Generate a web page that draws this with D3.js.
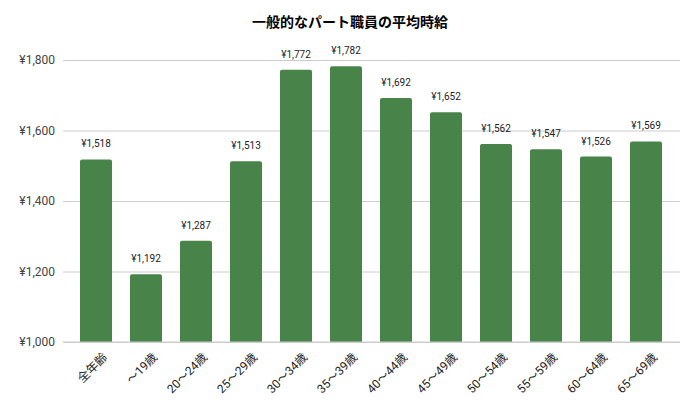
<!DOCTYPE html>
<html>
<head>
<meta charset="utf-8">
<script src="https://cdn.jsdelivr.net/npm/d3@7"></script>
<style>
  body { margin: 0; background: #fff; }
  text { font-family: Roboto, "Noto Sans CJK JP", sans-serif; }
</style>
</head>
<body>
<div id="wrap"></div>
<script>
// chart data
var categories = ["全年齢", "～19歳", "20～24歳", "25～29歳", "30～34歳", "35～39歳",
                  "40～44歳", "45～49歳", "50～54歳", "55～59歳", "60～64歳", "65～69歳"];
var wages = [1518, 1192, 1287, 1513, 1772, 1782, 1692, 1652, 1562, 1547, 1526, 1569];
var yTicks = [1000, 1200, 1400, 1600, 1800];

var W = 700, H = 411;

var svg = d3.select("#wrap").append("svg")
    .attr("width", W)
    .attr("height", H);

var x = d3.scaleBand()
    .domain(categories)
    .range([71, 671])
    .paddingInner(0.36)
    .paddingOuter(0.18);

var y = d3.scaleLinear()
    .domain([1000, 1800])
    .range([342, 60]);

var yen = function(v) { return "¥" + d3.format(",")(v); };

// title
svg.append("text")
    .attr("x", 350)
    .attr("y", 27)
    .attr("text-anchor", "middle")
    .style("font-family", "'Noto Sans CJK JP', sans-serif")
    .style("font-size", "14px")
    .style("font-weight", "bold")
    .style("fill", "#000")
    .text("一般的なパート職員の平均時給");

// gridlines + y labels
var yAxis = svg.append("g")
    .attr("transform", "translate(63,0)")
    .call(d3.axisLeft(y).tickValues(yTicks).tickFormat(yen).tickSize(-617).tickPadding(8));
yAxis.select(".domain").remove();
yAxis.selectAll(".tick line").attr("stroke", "#ccc");
yAxis.selectAll(".tick text")
    .style("font-size", "12px")
    .style("fill", "#444");

// bars, slightly rounded tops
svg.append("g").selectAll("path")
    .data(wages)
    .enter()
    .append("path")
    .attr("fill", "#48844a")
    .attr("d", function(d, i) {
        var x0 = x(categories[i]), w = x.bandwidth(), y0 = y(d), yb = y(1000), r = 2;
        return "M" + x0 + "," + yb +
            "V" + (y0 + r) +
            "Q" + x0 + "," + y0 + " " + (x0 + r) + "," + y0 +
            "H" + (x0 + w - r) +
            "Q" + (x0 + w) + "," + y0 + " " + (x0 + w) + "," + (y0 + r) +
            "V" + yb + "Z";
    });

// value labels
svg.append("g").selectAll("text")
    .data(wages)
    .enter()
    .append("text")
    .attr("x", function(d, i) { return x(categories[i]) + x.bandwidth() / 2; })
    .attr("y", function(d) { return y(d) - 12; })
    .attr("text-anchor", "middle")
    .style("font-size", "10px")
    .style("fill", "#222")
    .text(yen);

// x axis line
svg.append("line")
    .attr("x1", 63).attr("x2", 680)
    .attr("y1", y(1000)).attr("y2", y(1000))
    .attr("stroke", "#ccc");

// rotated category labels
svg.append("g").selectAll("text")
    .data(categories)
    .enter()
    .append("text")
    .attr("transform", function(d) {
        return "translate(" + (x(d) + x.bandwidth() / 2 + 6) + ",352) rotate(-45)";
    })
    .attr("text-anchor", "end")
    .attr("dy", "0.7em")
    .style("font-size", "12px")
    .style("fill", "#222")
    .text(function(d) { return d; });
</script>
</body>
</html>
